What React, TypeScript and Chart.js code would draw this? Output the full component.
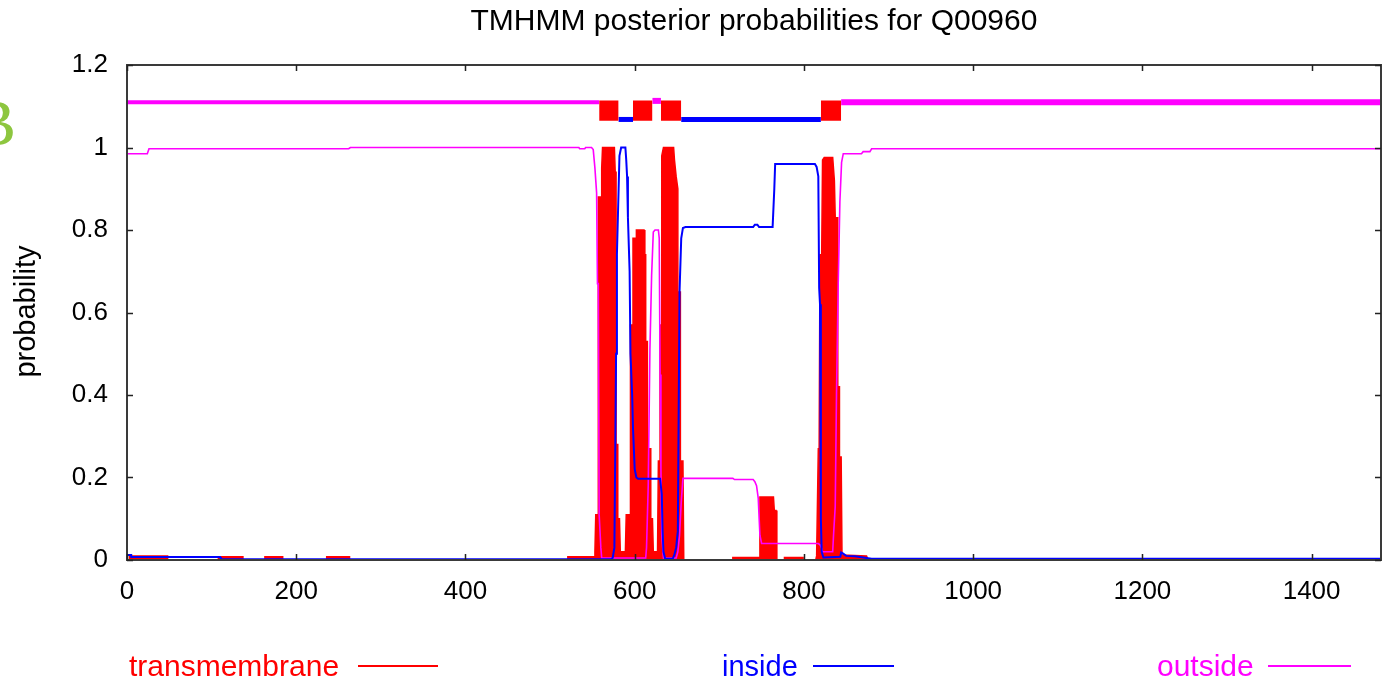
import React, { useEffect, useRef } from "react";
import { Chart, registerables } from "chart.js";

Chart.register(...registerables);

// ---- data (position along sequence, posterior probability) ----
const SEQ_LENGTH = 1482;
const xTicks = [0, 200, 400, 600, 800, 1000, 1200, 1400];
const yTicks = [0, 0.2, 0.4, 0.6, 0.8, 1.0, 1.2];

const transmembranePts: [number, number][] = [
  [0, 0], [3, 0], [3, 0.01], [48, 0.01], [48, 0],
  [108, 0], [108, 0.008], [137, 0.008], [137, 0],
  [163, 0], [163, 0.008], [184, 0.008], [184, 0],
  [236, 0], [236, 0.008], [263, 0.008], [263, 0],
  [521, 0], [521, 0.008], [552, 0.008],
  [553, 0.02], [554, 0.11], [557, 0.11], [557, 0.88], [561, 0.88], [561, 0.95], [562, 1.0],
  [576, 1.0], [577, 0.94], [578, 0.94], [578, 0.28], [580, 0.28], [580, 0.1], [582, 0.1], [583, 0.02],
  [589, 0.02], [590, 0.11], [595, 0.11], [595, 0.57], [598, 0.57], [598, 0.78], [602, 0.78], [602, 0.8],
  [611, 0.8], [612, 0.74], [613, 0.74], [613, 0.53], [615, 0.53], [615, 0.27], [619, 0.27], [619, 0.1],
  [621, 0.1], [622, 0.02],
  [627, 0.02], [628, 0.24], [630, 0.24], [630, 0.57], [632, 0.57], [632, 0.98], [634, 1.0], [646, 1.0],
  [647, 0.97], [649, 0.93], [651, 0.9], [651, 0.65], [654, 0.65], [654, 0.24], [657, 0.24], [658, 0],
  [716, 0], [716, 0.006], [748, 0.006], [748, 0.153], [764, 0.153], [765, 0.12], [767, 0.12], [768, 0],
  [777, 0], [777, 0.006], [799, 0.006], [799, 0], [814, 0], [815, 0.01],
  [817, 0.27], [818, 0.27], [819, 0.74], [821, 0.74], [822, 0.97], [824, 0.976], [834, 0.976],
  [836, 0.92], [837, 0.83], [840, 0.83], [840, 0.42], [842, 0.42], [842, 0.25], [844, 0.25],
  [845, 0.012], [874, 0.01], [876, 0], [1482, 0],
];

const insidePts: [number, number][] = [
  [0, 0.012], [5, 0.012], [5, 0.007], [110, 0.007], [111, 0.002], [572, 0.002],
  [574, 0.005], [576, 0.03], [577, 0.26], [578, 0.5], [579, 0.74], [581, 0.9], [582, 0.98],
  [584, 1.0], [589, 1.0], [590, 0.97], [591, 0.93], [592, 0.83], [594, 0.7], [595, 0.5],
  [597, 0.4], [598, 0.32], [600, 0.22], [602, 0.2], [604, 0.197], [630, 0.197], [632, 0.16],
  [633, 0.07], [634, 0.02], [636, 0.003], [645, 0.003], [647, 0.014], [649, 0.03], [651, 0.07],
  [653, 0.65], [655, 0.78], [657, 0.805], [660, 0.807], [740, 0.807], [742, 0.813], [745, 0.813],
  [747, 0.807], [763, 0.807], [765, 0.9], [766, 0.96], [813, 0.96], [815, 0.953], [817, 0.93],
  [818, 0.66], [819, 0.62], [820, 0.1], [821, 0.02], [823, 0.006], [843, 0.008], [844, 0.018],
  [846, 0.016], [850, 0.01], [860, 0.009], [880, 0.003], [1482, 0.003],
];

const outsidePts: [number, number][] = [
  [0, 0.985], [24, 0.985], [26, 0.997], [262, 0.997], [264, 1.0], [534, 1.0], [535, 0.997],
  [541, 0.997], [542, 1.0], [549, 1.0], [551, 0.995], [553, 0.95], [555, 0.89], [556, 0.67],
  [557, 0.67], [558, 0.11], [560, 0.03], [561, 0.005], [613, 0.005], [614, 0.03], [616, 0.18],
  [618, 0.51], [620, 0.69], [622, 0.795], [624, 0.8], [628, 0.8], [629, 0.78], [630, 0.45],
  [631, 0.22], [632, 0.06], [634, 0.005], [649, 0.005], [651, 0.02], [653, 0.06], [655, 0.14],
  [657, 0.198], [716, 0.198], [718, 0.195], [740, 0.195], [742, 0.19], [744, 0.18], [746, 0.15],
  [748, 0.06], [750, 0.04], [817, 0.04], [819, 0.037], [821, 0.028], [822, 0.02], [834, 0.02],
  [835, 0.06], [837, 0.13], [838.5, 0.4], [840.5, 0.666], [842.5, 0.868], [844.5, 0.964],
  [846.5, 0.985], [868, 0.985], [870, 0.99], [878, 0.99], [880, 0.997], [1482, 0.997],
];

// predicted topology (drawn above the curves)
const tmSegments: [number, number][] = [[558, 581], [598, 621], [631, 655], [820, 844]];
const insideSegments: [number, number][] = [[581, 598], [655, 820]];
const outsideSegments: [number, number][] = [[0, 558], [621, 631], [844, 1482]];
const TOPO_TM_LOW = 1.065;
const TOPO_TM_HIGH = 1.114;
const TOPO_INSIDE = 1.068;
const TOPO_OUTSIDE = 1.11;

const RED = "#ff0000";
const BLUE = "#0000ff";
const MAGENTA = "#ff00ff";
const FONT = "'Liberation Sans', Arial, Helvetica, sans-serif";

const toXY = (pts: [number, number][]) => pts.map(([x, y]) => ({ x, y }));

const framePlugin = {
  id: "gnuplotFrame",
  afterDatasetsDraw(chart: any) {
    const { ctx, chartArea, scales } = chart;
    const { left, right, top, bottom } = chartArea;
    ctx.save();
    ctx.strokeStyle = "#3a3a3a";
    ctx.lineWidth = 2;
    ctx.strokeRect(left, top, right - left, bottom - top);
    ctx.lineWidth = 1.5;
    ctx.strokeStyle = "#222";
    const L = 6;
    ctx.beginPath();
    for (const v of xTicks) {
      const px = Math.round(scales.x.getPixelForValue(v)) + 0.5;
      ctx.moveTo(px, bottom);
      ctx.lineTo(px, bottom - L);
      ctx.moveTo(px, top);
      ctx.lineTo(px, top + L);
    }
    for (const v of yTicks) {
      const py = Math.round(scales.y.getPixelForValue(v)) + 0.5;
      ctx.moveTo(left, py);
      ctx.lineTo(left + L, py);
      ctx.moveTo(right, py);
      ctx.lineTo(right - L, py);
    }
    ctx.stroke();
    ctx.restore();
  },
};

export default function App() {
  const canvasRef = useRef<HTMLCanvasElement | null>(null);

  useEffect(() => {
    if (!canvasRef.current) return;
    const line = (pts: [number, number][], color: string, width: number, order: number, extra: any = {}) => ({
      data: toXY(pts),
      showLine: true,
      borderColor: color,
      backgroundColor: color,
      borderWidth: width,
      pointRadius: 0,
      tension: 0,
      order,
      ...extra,
    });

    const datasets: any[] = [];
    datasets.push(line(insidePts, BLUE, 2, 1));
    datasets.push(line(outsidePts, MAGENTA, 1.6, 2));
    datasets.push(line(transmembranePts, RED, 1.5, 3, { fill: "origin" }));
    tmSegments.forEach(([a, b]) =>
      datasets.push(
        line([[a, TOPO_TM_HIGH], [b, TOPO_TM_HIGH]], RED, 0, 4, {
          fill: { value: TOPO_TM_LOW },
        })
      )
    );
    insideSegments.forEach(([a, b]) =>
      datasets.push(line([[a, TOPO_INSIDE], [b, TOPO_INSIDE]], BLUE, 5, 5))
    );
    outsideSegments.forEach(([a, b], i) =>
      datasets.push(
        line(
          [[a, i === 1 ? 1.113 : TOPO_OUTSIDE], [b, i === 1 ? 1.113 : TOPO_OUTSIDE]],
          MAGENTA,
          i === 0 ? 4 : 6,
          5
        )
      )
    );

    const chart = new Chart(canvasRef.current, {
      type: "scatter",
      data: { datasets },
      plugins: [framePlugin],
      options: {
        animation: false,
        responsive: false,
        devicePixelRatio: 1,
        layout: { padding: { top: 65, right: 2, left: 0, bottom: 0 } },
        plugins: { legend: { display: false }, tooltip: { enabled: false }, title: { display: false } },
        scales: {
          x: {
            type: "linear",
            min: 0,
            max: SEQ_LENGTH,
            grid: { display: false, drawTicks: false },
            border: { display: false },
            afterFit: (s: any) => {
              s.height = 124;
            },
            afterBuildTicks: (s: any) => {
              s.ticks = xTicks.map((v) => ({ value: v }));
            },
            ticks: {
              includeBounds: false,
              padding: 16,
              color: "#000",
              maxRotation: 0,
              autoSkip: false,
              font: { family: FONT, size: 26 },
              callback: (v: any) => String(v),
            },
          },
          y: {
            type: "linear",
            min: 0,
            max: 1.2,
            grid: { display: false, drawTicks: false },
            border: { display: false },
            afterFit: (s: any) => {
              s.width = 127;
            },
            afterBuildTicks: (s: any) => {
              s.ticks = yTicks.map((v) => ({ value: v }));
            },
            ticks: {
              padding: 19,
              color: "#000",
              autoSkip: false,
              font: { family: FONT, size: 26 },
              callback: (v: any) => String(Math.round(Number(v) * 10) / 10),
            },
          },
        },
      },
    });
    return () => chart.destroy();
  }, []);

  const textBase: React.CSSProperties = {
    position: "absolute",
    fontFamily: FONT,
    whiteSpace: "nowrap",
  };

  return (
    <div style={{ position: "fixed", left: 0, top: 0, width: 1383, height: 684, background: "#fff", overflow: "hidden" }}>
      <canvas ref={canvasRef} width={1383} height={684} style={{ position: "absolute", left: 0, top: 0, width: 1383, height: 684 }} />
      <div style={{ ...textBase, left: 127, width: 1254, top: 5, textAlign: "center", fontSize: 30, lineHeight: "30px", color: "#000" }}>
        TMHMM posterior probabilities for Q00960
      </div>
      <div
        style={{
          ...textBase,
          left: 24.5 - 100,
          top: 311 - 14.5,
          width: 200,
          height: 29,
          textAlign: "center",
          fontSize: 29,
          lineHeight: "29px",
          color: "#000",
          transform: "rotate(-90deg)",
        }}
      >
        probability
      </div>
      <div style={{ ...textBase, left: -28, top: 90, fontFamily: "'Liberation Serif', 'Times New Roman', serif", fontSize: 66, lineHeight: "66px", color: "#8dc63f" }}>
        B
      </div>
      <div style={{ ...textBase, left: 129, top: 651, fontSize: 30, lineHeight: "30px", color: RED }}>transmembrane</div>
      <div style={{ position: "absolute", left: 358, top: 665, width: 80, height: 2, background: RED }} />
      <div style={{ ...textBase, left: 722, top: 651.5, fontSize: 29, lineHeight: "29px", color: BLUE }}>inside</div>
      <div style={{ position: "absolute", left: 813, top: 665, width: 81, height: 2, background: BLUE }} />
      <div style={{ ...textBase, left: 1157, top: 651, fontSize: 30, lineHeight: "30px", color: MAGENTA }}>outside</div>
      <div style={{ position: "absolute", left: 1268, top: 665, width: 83, height: 2, background: MAGENTA }} />
    </div>
  );
}
